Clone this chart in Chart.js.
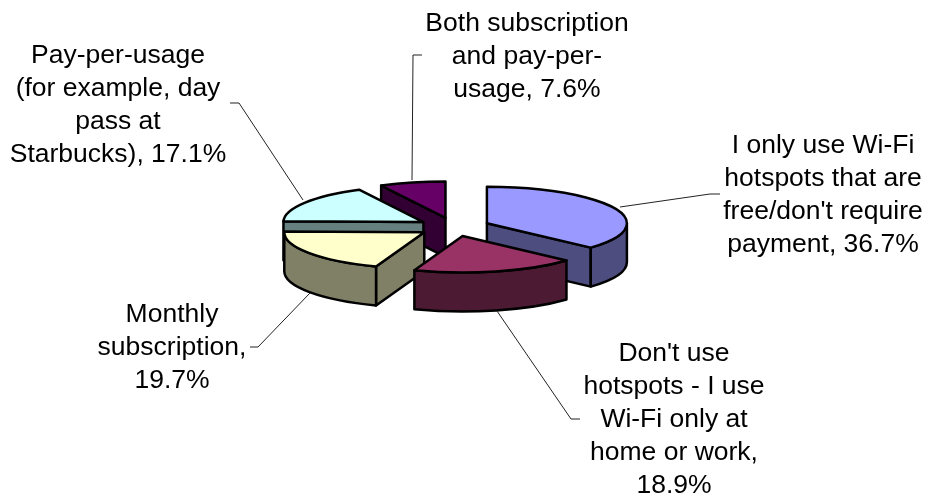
<!DOCTYPE html>
<html>
<head>
<meta charset="utf-8">
<style>
  html, body { margin: 0; padding: 0; background: #fff; }
  #wrap { width: 928px; height: 496px; }
</style>
<script src="https://cdn.jsdelivr.net/npm/chart.js@4"></script>
</head>
<body>
<div id="wrap"><canvas id="pie" width="928" height="496"></canvas></div>
<script>
const values = [36.7, 18.9, 19.7, 17.1, 7.6];
const categories = [
  "I only use Wi-Fi\nhotspots that are\nfree/don't require\npayment,",
  "Don't use\nhotspots - I use\nWi-Fi only at\nhome or work,\n",
  "Monthly\nsubscription,\n",
  "Pay-per-usage\n(for example, day\npass at\nStarbucks),",
  "Both subscription\nand pay-per-\nusage,"
];
const topColors = ['#9999FF', '#993366', '#FFFFCC', '#CCFFFF', '#660066'];
const wallColors = ['#4D4D80', '#4D1A33', '#808066', '#668080', '#330033'];

// 3d look
const tilt = 0.26;
const depth = 39;
const explode = 36;
const drawOrder = [4, 3, 0, 2, 1];

// label centre x, first baseline y
const labelPos = [[823, 153], [674, 361], [172, 322], [118, 63], [527, 31]];
const leaders = [
  [[620, 207], [710, 194], [720, 194]],
  [[497, 311], [571, 419], [580, 419]],
  [[310, 293], [258, 347], [250, 347]],
  [[303, 200], [239, 103], [230, 103]],
  [[412, 180], [413, 55], [422, 55]]
];
const lineHeight = 33;

function drawSlice(ctx, arc, i) {
  const { x, y, startAngle, endAngle, outerRadius: r } = arc.getProps(['x', 'y', 'startAngle', 'endAngle', 'outerRadius']);
  const mid = (startAngle + endAngle) / 2;
  const ax = x + Math.cos(mid) * explode;
  const ay = y + Math.sin(mid) * explode * tilt;
  const px = a => ax + Math.cos(a) * r;
  const py = a => ay + Math.sin(a) * r * tilt;

  ctx.lineWidth = 2.5;
  ctx.lineJoin = 'round';
  ctx.strokeStyle = '#000';
  ctx.fillStyle = wallColors[i];

  // flat cut faces, only the ones turned to the viewer
  [[startAngle, Math.cos(startAngle) < -1e-6], [endAngle, Math.cos(endAngle) > 1e-6]].forEach(([a, show]) => {
    if (!show) return;
    ctx.beginPath();
    ctx.moveTo(ax, ay);
    ctx.lineTo(px(a), py(a));
    ctx.lineTo(px(a), py(a) + depth);
    ctx.lineTo(ax, ay + depth);
    ctx.closePath();
    ctx.fill();
    ctx.stroke();
  });

  // rounded outer wall
  const s = Math.max(startAngle, 0);
  const e = Math.min(endAngle, Math.PI);
  if (e > s) {
    ctx.beginPath();
    ctx.ellipse(ax, ay, r, r * tilt, 0, s, e);
    ctx.ellipse(ax, ay + depth, r, r * tilt, 0, e, s, true);
    ctx.closePath();
    ctx.fill();
    ctx.stroke();
  }

  // top face is the chart's own arc, squashed
  ctx.save();
  ctx.translate(ax, ay);
  ctx.scale(1, tilt);
  ctx.translate(-x, -y);
  arc.draw(ctx);
  ctx.restore();

  ctx.beginPath();
  ctx.moveTo(ax, ay);
  ctx.ellipse(ax, ay, r, r * tilt, 0, startAngle, endAngle);
  ctx.closePath();
  ctx.stroke();
}

const pie3d = {
  id: 'pie3d',
  beforeDatasetDraw(chart, args) {
    const ctx = chart.ctx;
    const arcs = args.meta.data;
    ctx.save();
    drawOrder.forEach(i => drawSlice(ctx, arcs[i], i));
    ctx.restore();
    return false;
  },
  afterDraw(chart) {
    const ctx = chart.ctx;
    ctx.save();
    ctx.strokeStyle = '#222';
    ctx.lineWidth = 1;
    leaders.forEach(pts => {
      ctx.beginPath();
      pts.forEach((p, k) => k ? ctx.lineTo(p[0], p[1]) : ctx.moveTo(p[0], p[1]));
      ctx.stroke();
    });
    ctx.fillStyle = '#000';
    ctx.font = '26.5px "Liberation Sans"';
    ctx.textAlign = 'center';
    categories.forEach((c, i) => {
      const text = c + (c.endsWith('\n') ? '' : ' ') + values[i].toFixed(1) + '%';
      text.split('\n').forEach((line, k) => {
        ctx.fillText(line, labelPos[i][0], labelPos[i][1] + k * lineHeight);
      });
    });
    ctx.restore();
  }
};

new Chart(document.getElementById('pie'), {
  type: 'pie',
  data: {
    labels: categories,
    datasets: [{ data: values, backgroundColor: topColors, borderWidth: 0 }]
  },
  options: {
    responsive: false,
    animation: false,
    radius: 140,
    layout: { padding: { right: 20, bottom: 42 } },
    plugins: { legend: { display: false }, tooltip: { enabled: false } }
  },
  plugins: [pie3d]
});
</script>
</body>
</html>
